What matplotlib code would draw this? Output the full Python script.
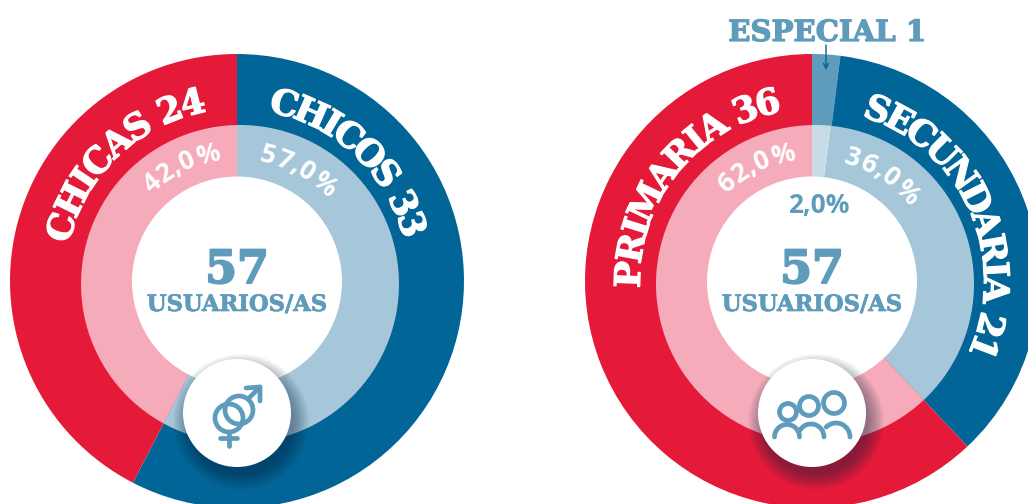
import matplotlib
matplotlib.use("Agg")
import numpy as np
import matplotlib.pyplot as plt
import matplotlib.patheffects as pe
from matplotlib.patches import Circle, Arc
from matplotlib.textpath import TextPath
from matplotlib.font_manager import FontProperties

W, H = 1028, 504
RED, BLUE = "#E51A38", "#016597"
PINK, LBLUE = "#F5ABB9", "#A5C7D9"
MID, PALE = "#5F9CBC", "#C7DCE7"

gender_labels = ["CHICOS 33", "CHICAS 24"]
gender_pct = [57.0, 42.0]
gender_pct_labels = ["57,0%", "42,0%"]
level_labels = ["ESPECIAL 1", "SECUNDARIA 21", "PRIMARIA 36"]
level_pct = [2.0, 36.0, 62.0]
level_pct_labels = ["2,0%", "36,0%", "62,0%"]
total_value = "57"
total_label = "USUARIOS/AS"

SLAB = FontProperties(family="DejaVu Serif", weight="bold")
SANS = FontProperties(family="Open Sans", weight="bold")

fig = plt.figure(figsize=(W / 100, H / 100), dpi=100, facecolor="white")
ax = fig.add_axes([0, 0, 1, 1])
ax.set_aspect("equal")


def Y(y):
    return H - y


def thick(color, lw):
    return [pe.withStroke(linewidth=lw, foreground=color)]


def curved(text, cx, cy, r, a0, a1, size, fp, color="white", lw=0.0):
    """Letters along a circle, a0..a1 clockwise from 12 o'clock, centres of end glyphs."""
    fp = fp.copy()
    fp.set_size(size)
    adv = []
    for ch in text:
        w = TextPath((0, 0), "x" + ch + "x", prop=fp).get_extents().width - \
            TextPath((0, 0), "xx", prop=fp).get_extents().width
        adv.append(w * 100 / 72)
    adv = np.array(adv)
    pos = np.cumsum(adv) - adv / 2
    pos = (pos - pos[0]) / (pos[-1] - pos[0])
    for ch, p in zip(text, pos):
        a = np.radians(a0 + (a1 - a0) * p)
        x = cx + r * np.sin(a)
        y = cy + r * np.cos(a)
        t = ax.text(x, y, ch, rotation=-np.degrees(a), rotation_mode="anchor",
                    ha="center", va="baseline", color=color, fontproperties=fp, zorder=5)
        if lw:
            t.set_path_effects(thick(color, lw))


def donut(cx, cy, vals, outer_cols, inner_cols):
    c = (cx, Y(cy))
    ax.pie(vals, colors=outer_cols, radius=227, center=c, startangle=90,
           counterclock=False, frame=True, wedgeprops=dict(linewidth=0))
    inner, _ = ax.pie(vals, colors=inner_cols, radius=175, center=c, startangle=90,
                      counterclock=False, frame=True, wedgeprops=dict(linewidth=0))
    clip = Circle((cx + 3, Y(cy + 3)), 159, transform=ax.transData)
    for w in inner:
        w.set_clip_on(True)
        w.set_clip_path(clip)
    ax.add_patch(Circle((cx, Y(cy + 0.5)), 105, fc="white", ec="none", zorder=2))


def badge(cx, cy):
    for r in np.linspace(68, 52, 18):
        ax.add_patch(Circle((cx + 4, Y(cy + 9)), r, fc="#0B2440",
                            alpha=0.028, ec="none", zorder=3))
    ax.add_patch(Circle((cx, Y(cy)), 54, fc="white", ec="none", zorder=4))


def centre_text(cx):
    ax.text(cx, Y(283), total_value, ha="center", va="baseline", color=MID,
            fontproperties=SLAB, fontsize=33, zorder=5,
            path_effects=thick(MID, 1.4))
    ax.text(cx, Y(311), total_label, ha="center", va="baseline", color=MID,
            fontproperties=SLAB, fontsize=16.3, zorder=5,
            path_effects=thick(MID, 0.5))


# Left donut
LX, RX, CY = 237, 812, 281
donut(LX, CY, gender_pct, [BLUE, RED], [LBLUE, PINK])
badge(LX, 413)
centre_text(LX)
curved(gender_labels[1], LX, Y(CY), 172, -73, -14, 25.5, SLAB, lw=0.9)
curved(gender_labels[0], LX, Y(CY), 172, 15, 72, 25.5, SLAB, lw=0.9)
curved(gender_pct_labels[1], LX, Y(CY), 122, -41, -13, 19, SANS)
curved(gender_pct_labels[0], LX, Y(CY), 122, 14, 42, 19, SANS)

# Right donut
donut(RX, CY, level_pct, [MID, BLUE, RED], [PALE, LBLUE, PINK])
badge(RX, 413)
centre_text(RX)
curved(level_labels[2], RX, Y(CY), 172, -88, -14, 25.5, SLAB, lw=0.9)
curved(level_labels[1], RX, Y(CY), 172, 21, 111, 25.5, SLAB, lw=0.9)
curved(level_pct_labels[2], RX, Y(CY), 122, -41, -13, 19, SANS)
curved(level_pct_labels[1], RX, Y(CY), 122, 18, 47, 19, SANS)
ax.text(819, Y(213), level_pct_labels[0], ha="center", va="baseline", color=MID,
        fontproperties=SANS, fontsize=19, zorder=5)
ax.text(827, Y(41), level_labels[0], ha="center", va="baseline", color=MID,
        fontproperties=SLAB, fontsize=21, zorder=5, path_effects=thick(MID, 0.9))
ax.annotate("", xy=(826, Y(70)), xytext=(826, Y(45)),
            arrowprops=dict(arrowstyle="->", color=BLUE, lw=1, shrinkA=0, shrinkB=0,
                            mutation_scale=9), zorder=5)

# Gender icon
LW = 3.4
ik = dict(color=MID, lw=LW, solid_capstyle="round", solid_joinstyle="round", zorder=6)
ax.add_patch(Circle((229, Y(418)), 14, fc="none", ec=MID, lw=LW, zorder=6))
ax.add_patch(Circle((239, Y(410)), 14, fc="none", ec=MID, lw=LW, zorder=6))
ax.plot([229, 229], [Y(433), Y(446)], **ik)
ax.plot([220, 237], [Y(438), Y(438)], **ik)
ax.plot([248, 260], [Y(399), Y(387)], **ik)
ax.plot([246, 260, 260], [Y(388), Y(387), Y(401)], **ik)

# People icon
for x, y, r in [(788, 412, 8.5), (809, 406, 9.5), (834, 403, 10.5)]:
    ax.add_patch(Circle((x, Y(y)), r, fc="none", ec=MID, lw=LW, zorder=6))
for x, r, t1, t2 in [(787, 12.5, 0, 180), (811, 13, 0, 150), (836, 14, 0, 135)]:
    arc = Arc((x, Y(437)), 2 * r, 2 * r, theta1=t1, theta2=t2, ec=MID, lw=LW, zorder=6)
    arc.set_capstyle("round")
    ax.add_patch(arc)

ax.set_xlim(0, W)
ax.set_ylim(0, H)
ax.set_xticks([])
ax.set_yticks([])
for s in ax.spines.values():
    s.set_visible(False)
fig.savefig("out.png", dpi=100, facecolor="white")
